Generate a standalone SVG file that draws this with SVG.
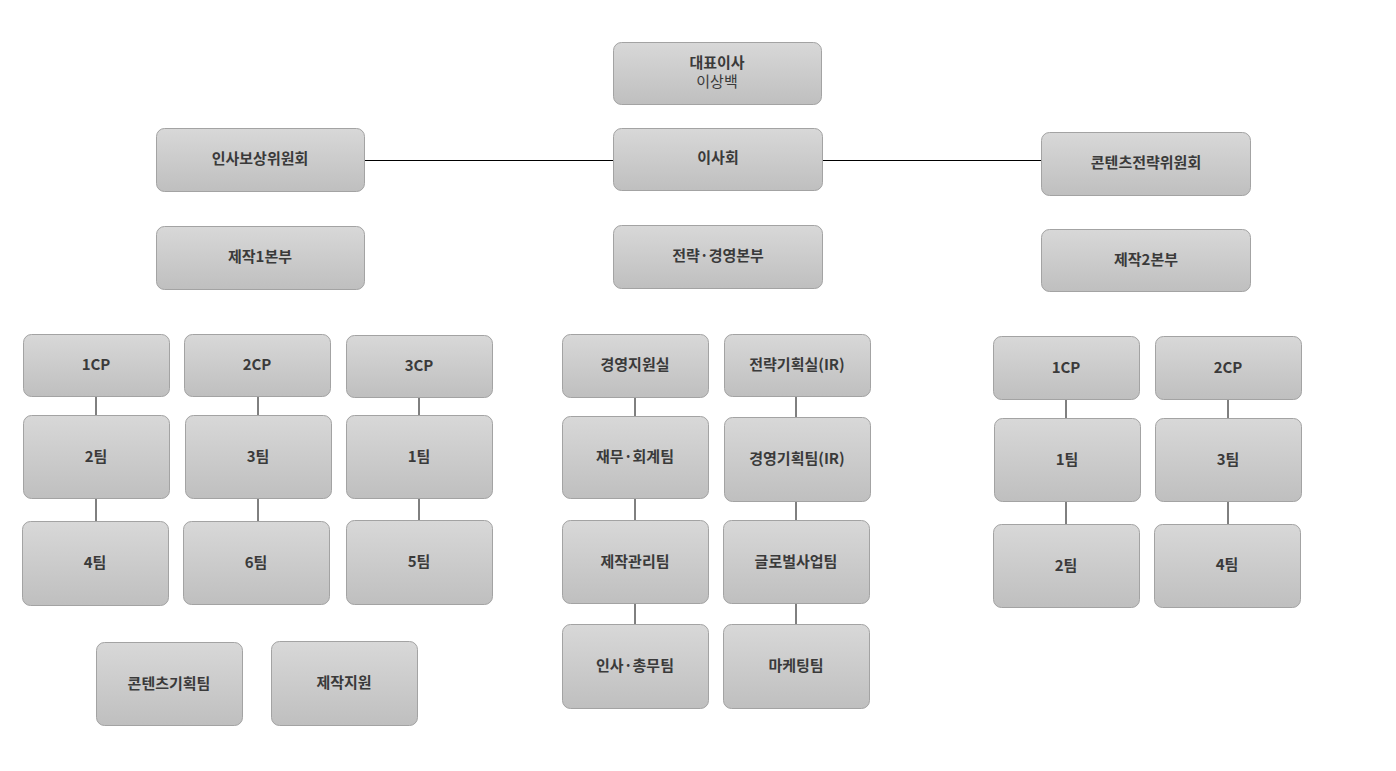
<svg xmlns="http://www.w3.org/2000/svg" width="1396" height="771" viewBox="0 0 1396 771">
<defs>
<linearGradient id="g" x1="0" y1="0" x2="0" y2="1"><stop offset="0" stop-color="#d8d8d8"/><stop offset="1" stop-color="#bfbfbf"/></linearGradient>
<style>
.b{fill:url(#g);stroke:#a3a3a3;stroke-width:1}
.t{font-family:"Noto Sans CJK KR","Noto Sans",sans-serif;font-size:15px;font-weight:bold;fill:#3a3a3a;text-anchor:middle;dominant-baseline:central;transform:translateY(-2px)}
.s{font-weight:normal}
.c line{stroke:#000;stroke-width:1}
</style>
</defs>
<rect width="1396" height="771" fill="#fff"/>
<g class="c">
<line x1="364" y1="160.5" x2="613" y2="160.5"/><line x1="822" y1="160.5" x2="1041" y2="160.5"/>
<line x1="96" y1="396" x2="96" y2="415"/><line x1="96" y1="498" x2="96" y2="521"/>
<line x1="258" y1="396" x2="258" y2="415"/><line x1="258" y1="498" x2="258" y2="521"/>
<line x1="419" y1="397" x2="419" y2="415"/><line x1="419" y1="498" x2="419" y2="520"/>
<line x1="635" y1="397" x2="635" y2="416"/><line x1="635" y1="498" x2="635" y2="520"/><line x1="635" y1="603" x2="635" y2="624"/>
<line x1="796" y1="396" x2="796" y2="417"/><line x1="796" y1="501" x2="796" y2="520"/><line x1="796" y1="603" x2="796" y2="624"/>
<line x1="1066" y1="399" x2="1066" y2="418"/><line x1="1066" y1="501" x2="1066" y2="524"/>
<line x1="1228" y1="399" x2="1228" y2="418"/><line x1="1228" y1="501" x2="1228" y2="524"/>
</g>
<g id="ceo"><rect class="b" x="613.5" y="42.5" width="208" height="62" rx="8"/><text class="t" x="717" y="63">대표이사</text><text class="t s" x="717" y="82" font-size="14">이상백</text></g>
<g id="n1"><rect class="b" x="156.5" y="128.5" width="208" height="63" rx="8"/><text class="t" x="260" y="159">인사보상위원회</text></g>
<g id="n2"><rect class="b" x="613.5" y="128.5" width="209" height="62" rx="8"/><text class="t" x="718" y="158">이사회</text></g>
<g id="n3"><rect class="b" x="1041.5" y="132.5" width="209" height="63" rx="8"/><text class="t" x="1146" y="163">콘텐츠전략위원회</text></g>
<g id="n4"><rect class="b" x="156.5" y="226.5" width="208" height="63" rx="8"/><text class="t" x="260" y="257">제작1본부</text></g>
<g id="n5"><rect class="b" x="613.5" y="225.5" width="209" height="63" rx="8"/><text class="t" x="718" y="256">전략·경영본부</text></g>
<g id="n6"><rect class="b" x="1041.5" y="229.5" width="209" height="62" rx="8"/><text class="t" x="1146" y="260">제작2본부</text></g>
<g id="a1"><rect class="b" x="23.5" y="334.5" width="146" height="62" rx="8"/><text class="t" x="96" y="365">1CP</text></g>
<g id="a2"><rect class="b" x="184.5" y="334.5" width="146" height="62" rx="8"/><text class="t" x="257" y="365">2CP</text></g>
<g id="a3"><rect class="b" x="346.5" y="335.5" width="146" height="62" rx="8"/><text class="t" x="419" y="366">3CP</text></g>
<g id="a4"><rect class="b" x="562.5" y="334.5" width="146" height="63" rx="8"/><text class="t" x="635" y="365">경영지원실</text></g>
<g id="a5"><rect class="b" x="724.5" y="334.5" width="146" height="62" rx="8"/><text class="t" x="797" y="365">전략기획실(IR)</text></g>
<g id="a6"><rect class="b" x="993.5" y="336.5" width="146" height="63" rx="8"/><text class="t" x="1066" y="368">1CP</text></g>
<g id="a7"><rect class="b" x="1155.5" y="336.5" width="146" height="63" rx="8"/><text class="t" x="1228" y="368">2CP</text></g>
<g id="b1"><rect class="b" x="23.5" y="415.5" width="146" height="83" rx="8"/><text class="t" x="96" y="457">2팀</text></g>
<g id="b2"><rect class="b" x="185.5" y="415.5" width="146" height="83" rx="8"/><text class="t" x="258" y="457">3팀</text></g>
<g id="b3"><rect class="b" x="346.5" y="415.5" width="146" height="83" rx="8"/><text class="t" x="419" y="457">1팀</text></g>
<g id="b4"><rect class="b" x="562.5" y="416.5" width="146" height="82" rx="8"/><text class="t" x="635" y="457">재무·회계팀</text></g>
<g id="b5"><rect class="b" x="724.5" y="417.5" width="146" height="84" rx="8"/><text class="t" x="797" y="459">경영기획팀(IR)</text></g>
<g id="b6"><rect class="b" x="994.5" y="418.5" width="146" height="83" rx="8"/><text class="t" x="1067" y="460">1팀</text></g>
<g id="b7"><rect class="b" x="1155.5" y="418.5" width="146" height="83" rx="8"/><text class="t" x="1228" y="460">3팀</text></g>
<g id="c1"><rect class="b" x="22.5" y="521.5" width="146" height="84" rx="8"/><text class="t" x="95" y="563">4팀</text></g>
<g id="c2"><rect class="b" x="183.5" y="521.5" width="146" height="83" rx="8"/><text class="t" x="256" y="563">6팀</text></g>
<g id="c3"><rect class="b" x="346.5" y="520.5" width="146" height="84" rx="8"/><text class="t" x="419" y="562">5팀</text></g>
<g id="c4"><rect class="b" x="562.5" y="520.5" width="146" height="83" rx="8"/><text class="t" x="635" y="562">제작관리팀</text></g>
<g id="c5"><rect class="b" x="723.5" y="520.5" width="146" height="83" rx="8"/><text class="t" x="796" y="562">글로벌사업팀</text></g>
<g id="c6"><rect class="b" x="993.5" y="524.5" width="146" height="83" rx="8"/><text class="t" x="1066" y="566">2팀</text></g>
<g id="c7"><rect class="b" x="1154.5" y="524.5" width="146" height="83" rx="8"/><text class="t" x="1227" y="565">4팀</text></g>
<g id="d1"><rect class="b" x="562.5" y="624.5" width="146" height="84" rx="8"/><text class="t" x="635" y="666">인사·총무팀</text></g>
<g id="d2"><rect class="b" x="723.5" y="624.5" width="146" height="84" rx="8"/><text class="t" x="796" y="666">마케팅팀</text></g>
<g id="e1"><rect class="b" x="96.5" y="642.5" width="146" height="83" rx="8"/><text class="t" x="169" y="684">콘텐츠기획팀</text></g>
<g id="e2"><rect class="b" x="271.5" y="641.5" width="146" height="84" rx="8"/><text class="t" x="344" y="683">제작지원</text></g>
</svg>
